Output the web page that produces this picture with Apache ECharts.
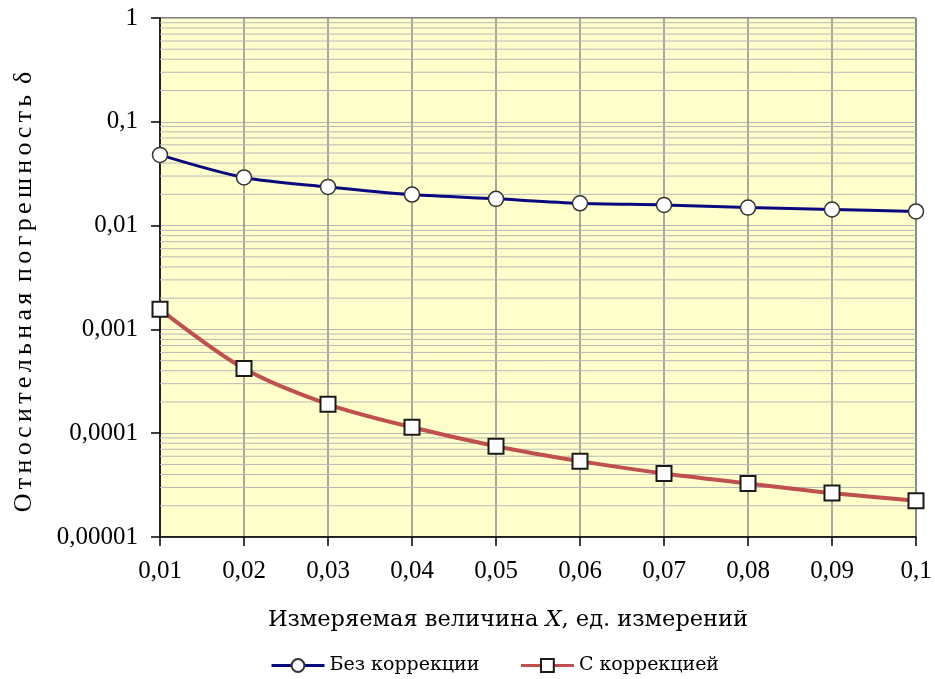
<!DOCTYPE html>
<html>
<head>
<meta charset="utf-8">
<script src="https://cdn.jsdelivr.net/npm/echarts@6/dist/echarts.min.js"></script>
<style>
  html, body { margin: 0; padding: 0; background: #fff; }
  #chart { width: 935px; height: 679px; }
</style>
</head>
<body>
<div id="chart"></div>
<script>
// Measured quantity X (units)
const categories = ['0,01', '0,02', '0,03', '0,04', '0,05', '0,06', '0,07', '0,08', '0,09', '0,1'];

// Relative error without correction
const noCorrection = [0.048, 0.0291, 0.0236, 0.0199, 0.0181, 0.0164, 0.0158, 0.0149, 0.0143, 0.0137];

// Relative error with correction
const withCorrection = [0.00156, 0.000419, 0.000190, 0.000114, 0.000075, 0.0000538, 0.0000409, 0.0000328, 0.0000265, 0.0000223];

// Log-axis tick labels, from 1e-5 up to 1
const yTickLabels = ['0,00001', '0,0001', '0,001', '0,01', '0,1', '1'];

const seriesNames = ['Без коррекции', 'С коррекцией'];

const yTitle = 'Относительная погрешность δ';

// Minor horizontal grid lines at 2..9 of each decade
const minorGrid = [];
for (let d = -5; d < 0; d++) {
  for (let m = 2; m <= 9; m++) {
    minorGrid.push([0, m * Math.pow(10, d)]);
  }
}

const SERIF = 'Liberation Serif';
const CAMBRIA_LIKE = 'DejaVu Serif';

// Spread the letters of the vertical title a little apart (word gaps stay plain)
const spacedTitle = yTitle.split(' ').map(w => Array.from(w).join('\u2006')).join(' \u2006');

const chart = echarts.init(document.getElementById('chart'));
chart.setOption({
  animation: false,
  backgroundColor: '#ffffff',
  grid: {
    left: 160, right: 19, top: 18, bottom: 142,
    show: true,
    backgroundColor: '#FFFFCC',
    borderColor: '#000000',
    borderWidth: 1
  },
  graphic: [
    {
      type: 'text',
      x: 24, y: 292,
      rotation: Math.PI / 2,
      style: {
        text: spacedTitle,
        fontFamily: SERIF, fontSize: 26, fill: '#000',
        align: 'center', verticalAlign: 'middle'
      }
    },
    {
      type: 'text',
      x: 508, y: 620,
      style: {
        rich: {
          n: { fontFamily: CAMBRIA_LIKE, fontSize: 22.5, fill: '#000' },
          i: { fontFamily: CAMBRIA_LIKE, fontSize: 22.5, fontStyle: 'italic', fill: '#000' }
        },
        text: '{n|Измеряемая величина }{i|X}{n|, ед. измерений}',
        align: 'center', verticalAlign: 'middle'
      }
    }
  ],
  legend: {
    data: seriesNames,
    left: 265,
    top: 651,
    itemWidth: 53,
    itemHeight: 16,
    itemGap: 40,
    lineStyle: { width: 3 },
    textStyle: { fontFamily: CAMBRIA_LIKE, fontSize: 19, color: '#000' }
  },
  xAxis: {
    type: 'category',
    data: categories,
    boundaryGap: false,
    axisLine: { lineStyle: { color: '#000', width: 1.5 } },
    axisTick: { show: true, length: 9, lineStyle: { color: '#000', width: 1.5 } },
    axisLabel: { fontFamily: SERIF, fontSize: 25, color: '#000', margin: 22 },
    splitLine: { show: true, lineStyle: { color: '#8c8c8c', width: 1.5 } }
  },
  yAxis: {
    type: 'log',
    logBase: 10,
    min: 0.00001,
    max: 1,
    axisLine: { show: true, lineStyle: { color: '#000', width: 1.5 } },
    axisTick: { show: true, length: 9, lineStyle: { color: '#000', width: 1.5 } },
    axisLabel: {
      fontFamily: SERIF, fontSize: 25, color: '#000', margin: 22,
      formatter: function (v) {
        const k = Math.round(Math.log10(v)) + 5;
        return yTickLabels[k] !== undefined ? yTickLabels[k] : '';
      }
    },
    splitLine: { show: true, lineStyle: { color: '#b8b8b8', width: 1 } }
  },
  series: [
    {
      // minor horizontal grid lines, drawn beneath the data
      name: 'minor-grid',
      type: 'custom',
      z: 1,
      silent: true,
      data: minorGrid,
      renderItem: function (params, api) {
        const cs = params.coordSys;
        const p = api.coord([0, api.value(1)]);
        return {
          type: 'line',
          shape: { x1: cs.x, y1: p[1], x2: cs.x + cs.width, y2: p[1] },
          style: { stroke: '#b8b8b8', lineWidth: 1 }
        };
      }
    },
    {
      name: seriesNames[0],
      type: 'line',
      data: noCorrection,
      smooth: 0.3,
      z: 3,
      symbol: 'circle',
      symbolSize: 15,
      showAllSymbol: true,
      lineStyle: { color: '#0a0a80', width: 3 },
      itemStyle: { color: '#ffffff', borderColor: '#333333', borderWidth: 1.5 },
      color: '#0a0a80'
    },
    {
      name: seriesNames[1],
      type: 'line',
      data: withCorrection,
      smooth: 0.3,
      z: 3,
      symbol: 'rect',
      symbolSize: 15,
      showAllSymbol: true,
      lineStyle: { color: '#c0504d', width: 4 },
      itemStyle: { color: '#ffffff', borderColor: '#1a1a1a', borderWidth: 2 },
      color: '#c0504d'
    }
  ]
});
</script>
</body>
</html>
